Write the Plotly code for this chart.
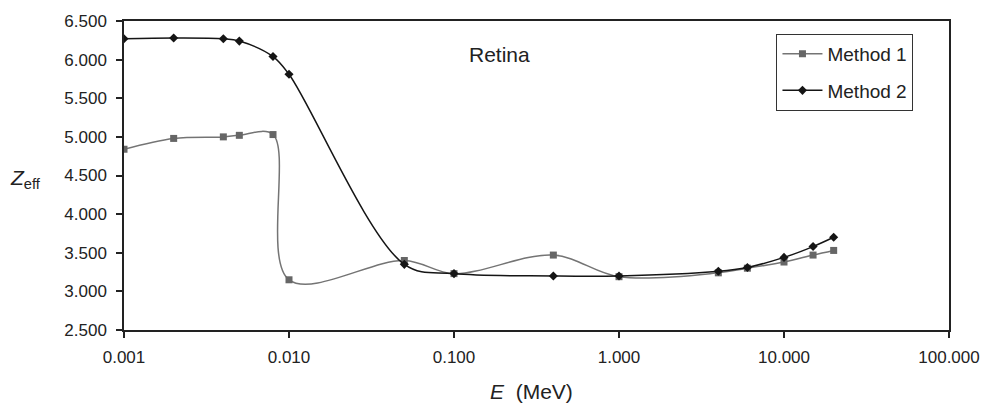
import plotly.graph_objects as go

energy = [0.001, 0.002, 0.004, 0.005, 0.008, 0.01, 0.05, 0.1, 0.4, 1.0, 4.0, 6.0, 10.0, 15.0, 20.0]
method1 = [4.84, 4.98, 5.00, 5.02, 5.03, 3.15, 3.40, 3.23, 3.47, 3.19, 3.24, 3.30, 3.38, 3.47, 3.53]
method2 = [6.27, 6.28, 6.27, 6.24, 6.04, 5.81, 3.35, 3.23, 3.20, 3.20, 3.26, 3.31, 3.44, 3.58, 3.70]

x_ticks = [0.001, 0.01, 0.1, 1, 10, 100]
x_tick_labels = ["0.001", "0.010", "0.100", "1.000", "10.000", "100.000"]
y_ticks = [2.5, 3.0, 3.5, 4.0, 4.5, 5.0, 5.5, 6.0, 6.5]
y_tick_labels = ["2.500", "3.000", "3.500", "4.000", "4.500", "5.000", "5.500", "6.000", "6.500"]

FONT = "Liberation Sans, Arial, sans-serif"
L, R, T, B = 124, 36, 16, 79
PW, PH = 992 - L - R, 409 - T - B

def px_to_paper(px, py):
    return (px - L) / PW, (409 - B - py) / PH

fig = go.Figure()
fig.add_trace(go.Scatter(
    x=energy, y=method1, name="Method 1", mode="lines+markers",
    line=dict(color="#747474", width=1.5, shape="spline", smoothing=1.0),
    marker=dict(symbol="square", size=7, color="#666666"),
    legendgroup="m1",
))
fig.add_trace(go.Scatter(
    x=energy, y=method2, name="Method 2", mode="lines+markers",
    line=dict(color="#151515", width=1.5, shape="spline", smoothing=1.0),
    marker=dict(symbol="diamond", size=7, color="#151515"),
    legendgroup="m2",
))

lx, ly = px_to_paper(782, 29)
fig.update_layout(
    width=992, height=409,
    margin=dict(l=L, r=R, t=T, b=B),
    paper_bgcolor="white", plot_bgcolor="white",
    font=dict(family=FONT, size=17, color="#222"),
    showlegend=True,
    legend=dict(
        x=lx, y=ly, xanchor="left", yanchor="top",
        bordercolor="#333", borderwidth=1, bgcolor="white",
        font=dict(family=FONT, size=19, color="#222"),
        tracegroupgap=9,
        itemwidth=40,
    ),
)

ax, ay = px_to_paper(503, 50)
ex, ey = px_to_paper(535, 393)
zx, zy = px_to_paper(25, 177)
fig.add_annotation(text="Retina", x=ax, y=ay, xref="paper", yref="paper", showarrow=False,
                   xanchor="center", yanchor="middle",
                   font=dict(family=FONT, size=21, color="#222"))
fig.add_annotation(text="<i>E</i>  (MeV)", x=ex, y=ey, xref="paper", yref="paper", showarrow=False,
                   xanchor="center", yanchor="middle",
                   font=dict(family=FONT, size=21, color="#222"))
fig.add_annotation(text="<i>Z</i><sub>eff</sub>", x=zx, y=zy, xref="paper", yref="paper", showarrow=False,
                   xanchor="center", yanchor="middle",
                   font=dict(family=FONT, size=21, color="#222"))

fig.update_xaxes(
    type="log", range=[-3, 2],
    tickvals=x_ticks, ticktext=x_tick_labels,
    ticks="outside", ticklen=6, tickcolor="#222", tickwidth=1.5,
    ticklabelstandoff=5,
    showline=True, linecolor="#222", linewidth=1.5, mirror=True,
    showgrid=False, zeroline=False,
    tickfont=dict(family=FONT, size=17, color="#222"),
)
fig.update_yaxes(
    range=[2.5, 6.5],
    tickvals=y_ticks, ticktext=y_tick_labels,
    ticks="outside", ticklen=6, tickcolor="#222", tickwidth=1.5,
    ticklabelstandoff=6,
    showline=True, linecolor="#222", linewidth=1.5, mirror=True,
    showgrid=False, zeroline=False,
    tickfont=dict(family=FONT, size=17, color="#222"),
)

fig.write_html("out.html")
